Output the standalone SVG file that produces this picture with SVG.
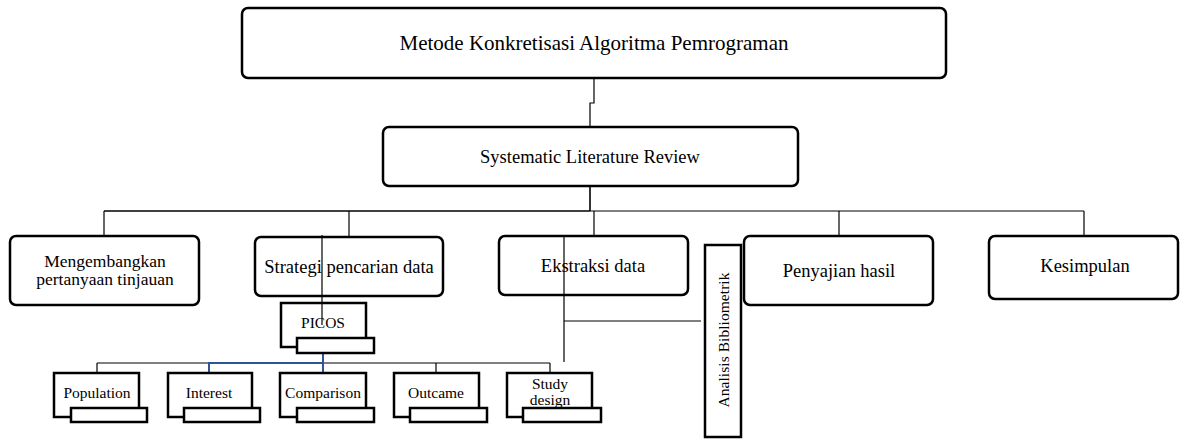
<svg xmlns="http://www.w3.org/2000/svg" width="1181" height="439" viewBox="0 0 1181 439">
<style>
text{font-family:"Liberation Serif","Times New Roman",serif;fill:#000;text-anchor:middle}
.rb{fill:#fff;stroke:#000;stroke-width:2.5}
.sq{fill:#fff;stroke:#000;stroke-width:2.5}
.ln{fill:none;stroke:#000;stroke-width:1.2}
.bl{fill:none;stroke:#2E5597;stroke-width:2}
.t1{font-size:21px}
.t2{font-size:18.5px}
.t2s{font-size:17.5px}
.t3{font-size:15.5px}
</style>
<rect width="1181" height="439" fill="#fff"/>
<g id="connectors">
<polyline class="ln" points="594,78 594,103 590,103 590,127"/>
<line class="ln" x1="590" y1="186" x2="590" y2="211" style="stroke-width:1.6"/>
<line class="ln" x1="104" y1="211" x2="590" y2="211" style="stroke-width:1.6"/>
<line class="ln" x1="590" y1="211" x2="1084" y2="211"/>
<line class="ln" x1="104" y1="211" x2="104" y2="236"/>
<line class="ln" x1="349" y1="211" x2="349" y2="237"/>
<line class="ln" x1="594" y1="211" x2="594" y2="236"/>
<line class="ln" x1="839" y1="211" x2="839" y2="236"/>
<line class="ln" x1="1084" y1="211" x2="1084" y2="236"/>
<line class="ln" x1="97" y1="363" x2="550" y2="363"/>
<line class="ln" x1="97" y1="363" x2="97" y2="373"/>
<line class="ln" x1="436" y1="363" x2="436" y2="373"/>
<line class="ln" x1="550" y1="363" x2="550" y2="373"/>
<polyline class="bl" points="209,373 209,363 323,363 323,373"/>
<line class="bl" x1="323" y1="353" x2="323" y2="363"/>
<line class="ln" x1="564" y1="321" x2="701" y2="321"/>
</g>
<g id="n-metode">
<rect class="rb" x="242" y="8" width="704" height="70" rx="6"/>
<text class="t1" x="594" y="50">Metode Konkretisasi Algoritma Pemrograman</text>
</g>
<g id="n-slr">
<rect class="rb" x="383" y="127" width="415" height="59" rx="6"/>
<text class="t2" x="590" y="163">Systematic Literature Review</text>
</g>
<g id="n-mengembangkan">
<rect class="rb" x="10" y="236" width="189" height="69" rx="6"/>
<text class="t2s" x="105" y="267">Mengembangkan</text>
<text class="t2s" x="105" y="285">pertanyaan tinjauan</text>
</g>
<g id="n-strategi">
<rect class="rb" x="255" y="237" width="188" height="59" rx="6"/>
<text class="t2" x="349" y="273">Strategi pencarian data</text>
</g>
<g id="n-ekstraksi">
<rect class="rb" x="499" y="236" width="189" height="59" rx="6"/>
<text class="t2" x="593" y="272">Ekstraksi data</text>
</g>
<g id="n-penyajian">
<rect class="rb" x="744" y="236" width="189" height="69" rx="6"/>
<text class="t2" x="839" y="277">Penyajian hasil</text>
</g>
<g id="n-kesimpulan">
<rect class="rb" x="989" y="236" width="189" height="63" rx="6"/>
<text class="t2" x="1085" y="272">Kesimpulan</text>
</g>
<g id="n-analisis">
<rect class="sq" x="705" y="245" width="36" height="192"/>
<text class="t3" transform="translate(729,340) rotate(-90)" textLength="135" lengthAdjust="spacing">Analisis  Bibliometrik</text>
</g>
<g id="n-picos">
<rect class="sq" x="281" y="303" width="85" height="44"/>
<text class="t3" x="323" y="328">PICOS</text>
<rect class="sq" x="297" y="338" width="77" height="15"/>
</g>
<g id="n-population">
<rect class="sq" x="54" y="373" width="85" height="44"/>
<text class="t3" x="97" y="398">Population</text>
<rect class="sq" x="71" y="408" width="76" height="14"/>
</g>
<g id="n-interest">
<rect class="sq" x="168" y="373" width="84" height="44"/>
<text class="t3" x="209" y="398">Interest</text>
<rect class="sq" x="184" y="408" width="76" height="14"/>
</g>
<g id="n-comparison">
<rect class="sq" x="280" y="373" width="86" height="44"/>
<text class="t3" x="323" y="398">Comparison</text>
<rect class="sq" x="297" y="408" width="77" height="14"/>
</g>
<g id="n-outcome">
<rect class="sq" x="394" y="373" width="85" height="44"/>
<text class="t3" x="436" y="398">Outcame</text>
<rect class="sq" x="410" y="408" width="77" height="14"/>
</g>
<g id="n-study">
<rect class="sq" x="507" y="373" width="85" height="44"/>
<text class="t3" x="550" y="389">Study</text>
<text class="t3" x="550" y="405">design</text>
<rect class="sq" x="523" y="408" width="78" height="14"/>
</g>
<g id="overlay-lines">
<line class="ln" x1="322" y1="235" x2="322" y2="325"/>
<line class="ln" x1="564" y1="235" x2="564" y2="362"/>
</g>
</svg>
